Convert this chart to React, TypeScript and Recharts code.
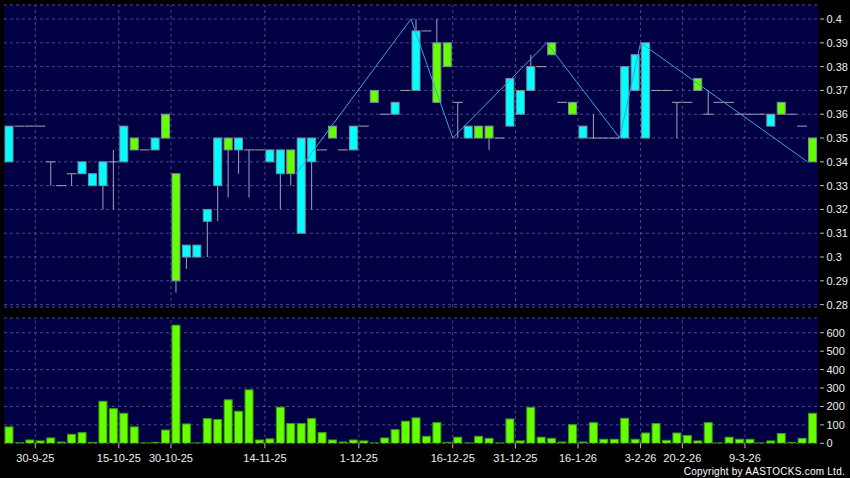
import React from 'react';
import { ComposedChart, Bar, Line, XAxis, YAxis, CartesianGrid, ReferenceLine } from 'recharts';

const opens = [0.34,0.355,0.355,0.355,0.34,0.33,0.335,0.335,0.33,0.33,0.34,0.34,0.35,0.345,0.345,0.36,0.335,0.3,0.3,0.315,0.33,0.35,0.345,0.345,0.345,0.34,0.335,0.345,0.31,0.34,0.345,0.355,0.345,0.345,0.355,0.37,0.36,0.36,0.37,0.37,0.395,0.39,0.39,0.365,0.35,0.355,0.355,0.35,0.355,0.36,0.37,0.38,0.39,0.365,0.365,0.35,0.35,0.35,0.35,0.35,0.37,0.35,0.37,0.37,0.365,0.365,0.375,0.36,0.365,0.365,0.36,0.36,0.36,0.355,0.365,0.36,0.355,0.35];
const highs = [0.355,0.355,0.355,0.355,0.34,0.33,0.335,0.34,0.335,0.34,0.345,0.355,0.35,0.345,0.35,0.36,0.335,0.305,0.305,0.32,0.35,0.35,0.35,0.345,0.345,0.345,0.345,0.345,0.35,0.35,0.345,0.355,0.345,0.355,0.355,0.37,0.36,0.365,0.37,0.4,0.395,0.4,0.39,0.365,0.355,0.355,0.355,0.35,0.375,0.37,0.385,0.38,0.39,0.365,0.365,0.355,0.36,0.35,0.35,0.38,0.385,0.39,0.37,0.37,0.365,0.365,0.375,0.37,0.365,0.365,0.36,0.36,0.36,0.36,0.365,0.36,0.355,0.35];
const lows = [0.34,0.355,0.355,0.355,0.33,0.33,0.33,0.335,0.33,0.32,0.32,0.34,0.345,0.345,0.345,0.35,0.285,0.295,0.3,0.3,0.315,0.325,0.335,0.325,0.345,0.34,0.32,0.33,0.31,0.32,0.345,0.35,0.345,0.345,0.355,0.365,0.36,0.36,0.37,0.37,0.395,0.365,0.38,0.35,0.35,0.35,0.345,0.35,0.355,0.36,0.37,0.38,0.385,0.365,0.36,0.35,0.35,0.35,0.35,0.35,0.37,0.35,0.37,0.37,0.35,0.365,0.37,0.36,0.365,0.365,0.36,0.36,0.36,0.355,0.36,0.36,0.355,0.34];
const closes = [0.355,0.355,0.355,0.355,0.34,0.33,0.335,0.34,0.335,0.34,0.34,0.355,0.345,0.345,0.35,0.35,0.29,0.305,0.305,0.32,0.35,0.345,0.35,0.345,0.345,0.345,0.345,0.335,0.35,0.35,0.345,0.35,0.345,0.355,0.355,0.365,0.36,0.365,0.37,0.395,0.395,0.365,0.38,0.365,0.355,0.35,0.35,0.35,0.375,0.37,0.38,0.38,0.385,0.365,0.36,0.355,0.35,0.35,0.35,0.38,0.385,0.39,0.37,0.37,0.365,0.365,0.37,0.36,0.365,0.365,0.36,0.36,0.36,0.36,0.36,0.36,0.355,0.34];
const volumes = [89,3,18,13,29,7,49,58,5,228,188,163,89,2,5,72,641,105,2,134,129,236,174,290,18,24,196,107,107,134,58,18,7,18,13,2,29,74,120,138,38,112,5,33,2,38,27,2,132,13,194,33,27,7,101,7,112,22,22,136,22,56,107,16,56,42,13,112,2,33,22,22,2,13,53,5,27,163];

const tickPositions = [2.5, 10.5, 15.5, 24.5, 33.5, 42.5, 48.5, 54.5, 60.5, 64.5, 70.5];
const tickLabels = ['30-9-25','15-10-25','30-10-25','14-11-25','1-12-25','16-12-25','31-12-25','16-1-26','3-2-26','20-2-26','9-3-26'];
const priceTicks = [0.28,0.29,0.3,0.31,0.32,0.33,0.34,0.35,0.36,0.37,0.38,0.39,0.4];
const volumeTicks = [0,100,200,300,400,500,600];
const zigX = [27.5, 38.5, 42.5, 51.5, 58.5, 60.5, 76.5];
const zigY = [0.335, 0.4, 0.35, 0.39, 0.35, 0.39, 0.34];

const data = opens.map((o, i) => ({ i, o, h: highs[i], l: lows[i], c: closes[i], v: volumes[i] }));
const zig = zigX.map((x, k) => ({ x, y: zigY[k] }));

const NAVY = '#000042';
const GRID = '#4a4a86';
const CYAN = '#00ffff';
const GREEN = '#66ff00';
const EDGE = '#7d8c9c';
const WICK = '#a4a4b4';
const FONT = '"Liberation Sans", Arial, sans-serif';
const X_DOMAIN: [number, number] = [-0.5, 77.5];

const Candle = (props: any) => {
  const { x, y, width, height, payload } = props;
  if (x == null || y == null || !payload) return null;
  const { o, h, l, c } = payload;
  const top = Math.min(y, y + height);
  const H = Math.abs(height);
  const k = h > l ? H / (h - l) : 0;
  const py = (v: number) => top + (h - v) * k;
  const cx = x + width / 2;
  const parts: any[] = [];
  if (h > l) {
    parts.push(<line key="w" x1={cx} x2={cx} y1={py(h)} y2={py(l)} stroke={WICK} strokeWidth={1} />);
  }
  if (o === c) {
    parts.push(<line key="d" x1={cx - 5} x2={cx + 5} y1={py(o)} y2={py(o)} stroke={WICK} strokeWidth={1} />);
  } else {
    const bt = py(Math.max(o, c));
    const bb = py(Math.min(o, c));
    parts.push(
      <rect key="b" x={cx - 4} y={bt} width={8} height={bb - bt} fill={c > o ? CYAN : GREEN} stroke={EDGE} strokeWidth={1} />
    );
  }
  return <g>{parts}</g>;
};

const VolBar = (props: any) => {
  const { x, y, width, height } = props;
  if (x == null || y == null) return null;
  const top = Math.min(y, y + height);
  const H = Math.abs(height);
  const cx = x + width / 2;
  return <rect x={cx - 4} y={top} width={8} height={Math.max(H, 0.5)} fill={GREEN} stroke="#3d9a12" strokeWidth={1} />;
};

const RightTick = (props: any) => {
  const { x, y, payload } = props;
  return (
    <g>
      <line x1={x + 2} x2={x + 6} y1={y} y2={y} stroke="#bbbbbb" strokeWidth={1} />
      <text x={x + 8.5} y={y} dy="0.36em" fill="#eeeeee" fontSize={11} fontFamily={FONT} textAnchor="start">
        {String(payload.value)}
      </text>
    </g>
  );
};

export default function App() {
  return (
    <div style={{ position: 'absolute', left: 0, top: 0, width: 850, height: 478, background: '#000', overflow: 'hidden' }}>
      <div style={{ position: 'absolute', left: 0, top: 0 }}>
        <ComposedChart width={850} height={310} data={data} margin={{ top: 5, right: 0, bottom: 3, left: 4 }}>
          <CartesianGrid vertical={false} stroke={GRID} strokeDasharray="3 3" fill={NAVY} />
          <XAxis type="number" dataKey="i" domain={X_DOMAIN} hide allowDataOverflow />
          <XAxis xAxisId="z" type="number" dataKey="x" domain={X_DOMAIN} hide allowDataOverflow />
          <YAxis
            orientation="right"
            width={32}
            domain={[0.279, 0.4059]}
            ticks={priceTicks}
            allowDataOverflow
            axisLine={false}
            tickLine={false}
            tickSize={0}
            tickMargin={0}
            interval={0}
            tick={<RightTick />}
          />
          {tickPositions.map((p) => (
            <ReferenceLine key={p} x={p} stroke={GRID} strokeDasharray="3 3" />
          ))}
          <Bar dataKey={(d: any) => [d.l, d.h]} barSize={10} shape={<Candle />} isAnimationActive={false} />
          <Line xAxisId="z" data={zig} dataKey="y" stroke="#3d9fe6" strokeWidth={1} dot={false} activeDot={false} isAnimationActive={false} />
        </ComposedChart>
      </div>
      <div style={{ position: 'absolute', left: 0, top: 310 }}>
        <ComposedChart width={850} height={168} data={data} margin={{ top: 8, right: 0, bottom: 14.7, left: 4 }}>
          <CartesianGrid vertical={false} stroke={GRID} strokeDasharray="3 3" fill={NAVY} />
          <XAxis
            type="number"
            dataKey="i"
            domain={X_DOMAIN}
            allowDataOverflow
            ticks={tickPositions}
            interval={0}
            height={20}
            axisLine={false}
            tickSize={5}
            tickMargin={6}
            tickLine={{ stroke: '#bbbbbb' }}
            tickFormatter={(v: number) => tickLabels[tickPositions.indexOf(v)] ?? ''}
            tick={{ fill: '#eeeeee', fontSize: 11, fontFamily: FONT }}
          />
          <YAxis
            orientation="right"
            width={32}
            domain={[0, 680]}
            ticks={volumeTicks}
            allowDataOverflow
            axisLine={false}
            tickLine={false}
            tickSize={0}
            tickMargin={0}
            interval={0}
            tick={<RightTick />}
          />
          {tickPositions.map((p) => (
            <ReferenceLine key={p} x={p} stroke={GRID} strokeDasharray="3 3" />
          ))}
          <Bar dataKey="v" barSize={10} shape={<VolBar />} isAnimationActive={false} />
        </ComposedChart>
      </div>
      <div
        style={{
          position: 'absolute',
          right: 5,
          top: 467,
          fontFamily: FONT,
          fontSize: 10,
          lineHeight: '10px',
          letterSpacing: '0.25px',
          color: '#ffffff',
          whiteSpace: 'nowrap',
        }}
      >
        Copyright by AASTOCKS.com Ltd.
      </div>
    </div>
  );
}
